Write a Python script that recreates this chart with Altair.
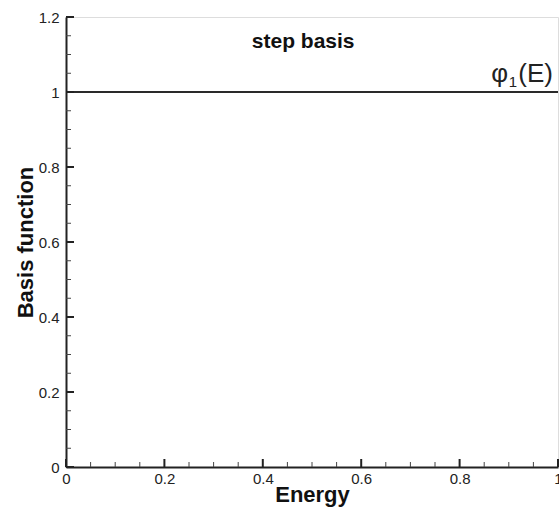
import altair as alt
import pandas as pd

# ---- data ----
energy = [0.0, 1.0]
phi1 = [1.0, 1.0]

x_major = [0.0, 0.2, 0.4, 0.6, 0.8, 1.0]
x_minor = [0.05, 0.1, 0.15, 0.25, 0.3, 0.35, 0.45, 0.5, 0.55, 0.65, 0.7, 0.75, 0.85, 0.9, 0.95]
y_major = [0.0, 0.2, 0.4, 0.6, 0.8, 1.0, 1.2]
y_minor = [0.05, 0.1, 0.15, 0.25, 0.3, 0.35, 0.45, 0.5, 0.55, 0.65, 0.7, 0.75,
           0.85, 0.9, 0.95, 1.05, 1.1, 1.15]

panel_title = ["step basis"]
panel_title_pos = [(0.482, 1.117)]
curve_label = ["φ", "1", "(E)"]

FONT = "Liberation Sans"
W, H = 492, 450

xs = alt.Scale(domain=[0, 1], nice=False, zero=False)
ys = alt.Scale(domain=[0, 1.2], nice=False, zero=False)

line_df = pd.DataFrame({"Energy": energy, "phi": phi1})

base_x_axis = alt.Axis(
    values=x_major, ticks=False, domain=True, domainColor="#222", domainWidth=2,
    labelFont=FONT, labelFontSize=15, labelColor="#222", labelPadding=4, labelFlush=False,
    labelExpr="datum.value == 0 ? '0' : datum.value == 1 ? '1' : format(datum.value, '.1f')",
    title="Energy", titleFont=FONT, titleFontSize=22, titleFontWeight="bold",
    titleColor="#111", titleBaseline="alphabetic", titleY=34, titleX=W / 2,
    titleAlign="center", grid=False,
)
base_y_axis = alt.Axis(
    values=y_major, ticks=False, domain=True, domainColor="#222", domainWidth=2,
    labelFont=FONT, labelFontSize=15, labelColor="#222", labelPadding=7, labelFlush=False,
    labelExpr="datum.value == 0 ? '0' : datum.value == 1 ? '1' : format(datum.value, '.1f')",
    title="Basis function", titleFont=FONT, titleFontSize=22, titleFontWeight="bold",
    titleColor="#111", titleAngle=270, titleBaseline="alphabetic", titleX=-34, titleY=H / 2,
    titleAlign="center", grid=False,
)

line = alt.Chart(line_df).mark_line(color="#2a2a2a", strokeWidth=2).encode(
    x=alt.X("Energy:Q", scale=xs, axis=base_x_axis),
    y=alt.Y("phi:Q", scale=ys, axis=base_y_axis),
)

xmaj = alt.Chart(pd.DataFrame({"v": x_major})).mark_rule(color="#222", strokeWidth=2).encode(
    x=alt.X("v:Q", scale=xs), y=alt.value(H), y2=alt.value(H - 8))
xmin = alt.Chart(pd.DataFrame({"v": x_minor})).mark_rule(color="#444", strokeWidth=1).encode(
    x=alt.X("v:Q", scale=xs), y=alt.value(H), y2=alt.value(H - 5))
ymaj = alt.Chart(pd.DataFrame({"v": y_major})).mark_rule(color="#222", strokeWidth=2).encode(
    y=alt.Y("v:Q", scale=ys), x=alt.value(0), x2=alt.value(8))
ymin = alt.Chart(pd.DataFrame({"v": y_minor})).mark_rule(color="#444", strokeWidth=1).encode(
    y=alt.Y("v:Q", scale=ys), x=alt.value(0), x2=alt.value(5))

title_df = pd.DataFrame({"t": panel_title, "x": [p[0] for p in panel_title_pos],
                         "y": [p[1] for p in panel_title_pos]})
title = alt.Chart(title_df).mark_text(font=FONT, fontSize=21, fontWeight="bold",
                                      color="#111", baseline="alphabetic", align="center").encode(
    x=alt.X("x:Q", scale=xs), y=alt.Y("y:Q", scale=ys), text="t:N")

lab_df = pd.DataFrame({"x": [energy[-1]], "y": [phi1[-1]],
                       "a": [curve_label[0]], "b": [curve_label[1]], "c": [curve_label[2]]})
lab_c = alt.Chart(lab_df).mark_text(font=FONT, fontSize=26, color="#222", align="right",
                                    baseline="alphabetic", dx=-5, dy=-10).encode(
    x=alt.X("x:Q", scale=xs), y=alt.Y("y:Q", scale=ys), text="c:N")
lab_b = alt.Chart(lab_df).mark_text(font=FONT, fontSize=15, color="#222", align="right",
                                    baseline="alphabetic", dx=-41, dy=-5).encode(
    x=alt.X("x:Q", scale=xs), y=alt.Y("y:Q", scale=ys), text="b:N")
lab_a = alt.Chart(lab_df).mark_text(font=FONT, fontSize=26, color="#222", align="right",
                                    baseline="alphabetic", dx=-50, dy=-10).encode(
    x=alt.X("x:Q", scale=xs), y=alt.Y("y:Q", scale=ys), text="a:N")

chart = alt.layer(line, xmin, xmaj, ymin, ymaj, title, lab_a, lab_b, lab_c).properties(
    width=W, height=H,
    autosize=alt.AutoSizeParams(type="none"),
    padding={"left": 66, "top": 17, "right": 1, "bottom": 44},
).configure_view(stroke=None).configure(background="white")

chart.save("out.html", embed_options={"renderer": "svg", "actions": False})
